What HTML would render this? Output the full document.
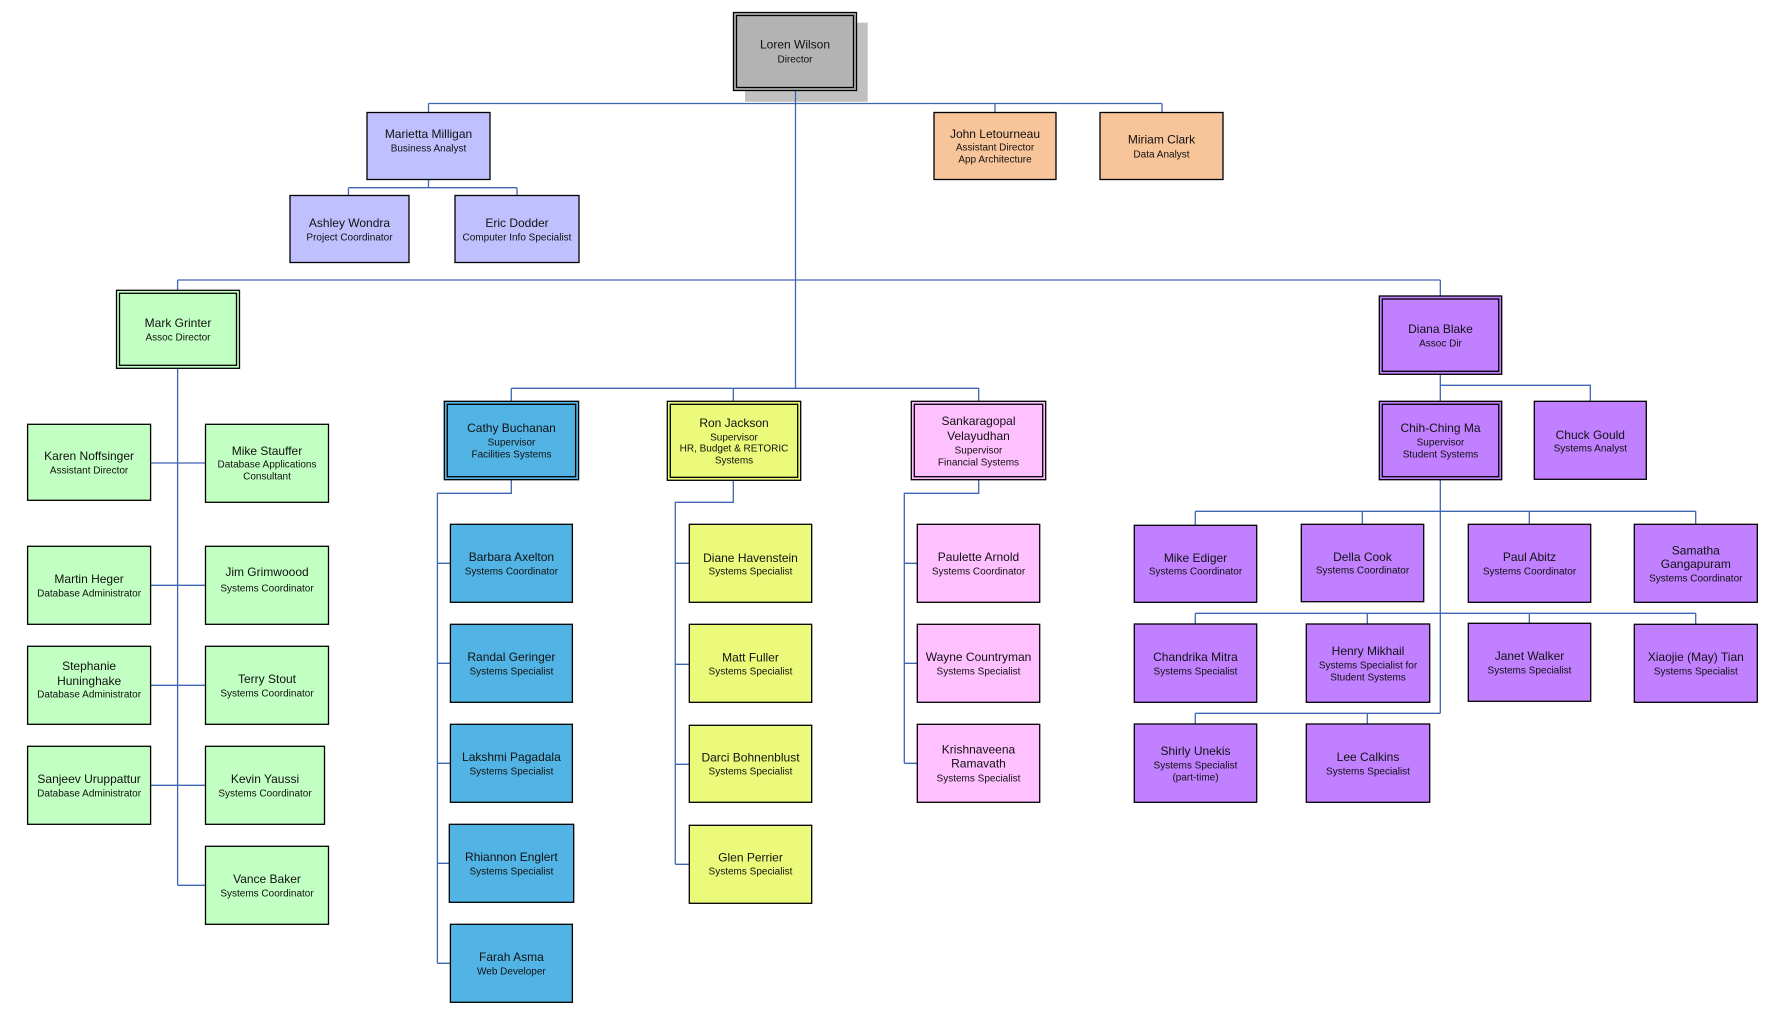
<!DOCTYPE html>
<html><head><meta charset="utf-8"><style>
html,body{margin:0;padding:0;background:#fff;}
svg{display:block;}
text{font-family:"Liberation Sans",Arial,sans-serif;text-anchor:middle;fill:#111;}
.n{font-size:12px;}
.s{font-size:10px;}
.l{stroke:#3d66b3;stroke-width:1.3;fill:none;}
.b{stroke:#000;stroke-width:1.3;}
.i{stroke:#000;stroke-width:1.3;fill:none;}
.gy{fill:#b3b3b3}.lv{fill:#c0c0ff}.pc{fill:#f8c49a}.gr{fill:#c2ffc2}.bl{fill:#52b4e4}.ye{fill:#ebfa7a}.pk{fill:#ffc0ff}.pu{fill:#c080ff}
</style></head><body>
<svg width="1785" height="1021" viewBox="0 0 1785 1021" xmlns="http://www.w3.org/2000/svg">
<rect x="0" y="0" width="1785" height="1021" fill="#fff"/>
<!-- shadow -->
<rect x="745" y="22.7" width="122.7" height="79" fill="#c0c0c0"/>
<!-- connectors -->
<path class="l" d="M795.5 90 V388.3
M428.5 103.5 H1162 M428.5 103.5 V112.5 M995 103.5 V112.5 M1162 103.5 V112.5
M428.5 179.3 V187.7 M348.5 187.7 H517 M348.5 187.7 V195.5 M517 187.7 V195.5
M177.6 280 H1440.3 M177.6 280 V290.3 M1440.3 280 V296
M511.3 388.3 H978.7 M511.3 388.3 V401.3 M733.3 388.3 V401.3 M978.7 388.3 V401.3
M177.6 368.3 V885.3 M150.8 463 H205.5 M150.8 585.3 H205.5 M150.8 685.3 H205.5 M150.8 785.3 H205.5 M177.6 885.3 H205.5
M511.3 479.7 V493.3 H437.4 V963.3 M437.4 563.3 H450.4 M437.4 663.3 H450.4 M437.4 763.3 H450.4 M437.4 863.3 H449.3 M437.4 963.3 H450.4
M733.3 480.3 V502.3 H675.3 V864.3 M675.3 563.3 H689.3 M675.3 664.3 H689.3 M675.3 764.3 H689.3 M675.3 864.3 H689.3
M978.7 479.7 V493.3 H904.3 V763.3 M904.3 563.3 H917.3 M904.3 663.3 H917.3 M904.3 763.3 H917.3
M1440.3 374.3 V401.3 M1440.3 385.3 H1590.3 V401.3
M1440.3 479.7 V713.3
M1195.3 511.3 H1695.7 M1195.3 511.3 V525.3 M1362.3 511.3 V524.3 M1529.3 511.3 V524.3 M1695.7 511.3 V524.3
M1195.3 613.3 H1695.7 M1195.3 613.3 V624 M1367.3 613.3 V624 M1529.3 613.3 V623.3 M1695.7 613.3 V624.3
M1195.3 713.3 H1440.3 M1195.3 713.3 V724 M1367.3 713.3 V724"/>

<!-- Loren -->
<rect class="gy b" x="733.5" y="12.5" width="123" height="78"/><rect class="i" x="736.5" y="15.5" width="117" height="72"/>
<text class="n" x="795" y="48.6">Loren Wilson</text><text class="s" x="795" y="62.6">Director</text>

<!-- Top staff -->
<rect class="lv b" x="367" y="112.5" width="123" height="67"/>
<text class="n" x="428.5" y="138">Marietta Milligan</text><text class="s" x="428.5" y="151.3">Business Analyst</text>
<rect class="pc b" x="934" y="112.5" width="122" height="67"/>
<text class="n" x="995" y="138">John Letourneau</text><text class="s" x="995" y="150.3">Assistant Director</text><text class="s" x="995" y="162.3">App Architecture</text>
<rect class="pc b" x="1100" y="112.5" width="123" height="67"/>
<text class="n" x="1161.5" y="143.6">Miriam Clark</text><text class="s" x="1161.5" y="157.3">Data Analyst</text>
<rect class="lv b" x="290" y="195.5" width="119" height="67"/>
<text class="n" x="349.5" y="227">Ashley Wondra</text><text class="s" x="349.5" y="240.3">Project Coordinator</text>
<rect class="lv b" x="455" y="195.5" width="124" height="67"/>
<text class="n" x="517" y="227">Eric Dodder</text><text class="s" x="517" y="240.3">Computer Info Specialist</text>

<!-- Mark group -->
<rect class="gr b" x="116.5" y="290.3" width="123" height="78"/><rect class="i" x="119.5" y="293.3" width="117" height="72"/>
<text class="n" x="178" y="327">Mark Grinter</text><text class="s" x="178" y="340.3">Assoc Director</text>
<rect class="gr b" x="27.6" y="424.3" width="123" height="76"/>
<text class="n" x="89.1" y="460">Karen Noffsinger</text><text class="s" x="89.1" y="473.3">Assistant Director</text>
<rect class="gr b" x="205.5" y="424.3" width="123" height="78"/>
<text class="n" x="267" y="455">Mike Stauffer</text><text class="s" x="267" y="467.3">Database Applications</text><text class="s" x="267" y="479.3">Consultant</text>
<rect class="gr b" x="27.6" y="546.3" width="123" height="78"/>
<text class="n" x="89.1" y="583">Martin Heger</text><text class="s" x="89.1" y="596.3">Database Administrator</text>
<rect class="gr b" x="205.5" y="546.3" width="123" height="78"/>
<text class="n" x="267" y="576">Jim Grimwoood</text><text class="s" x="267" y="591.3">Systems Coordinator</text>
<rect class="gr b" x="27.6" y="646.3" width="123" height="78"/>
<text class="n" x="89.1" y="670">Stephanie</text><text class="n" x="89.1" y="685">Huninghake</text><text class="s" x="89.1" y="697.3">Database Administrator</text>
<rect class="gr b" x="205.5" y="646.3" width="123" height="78"/>
<text class="n" x="267" y="683">Terry Stout</text><text class="s" x="267" y="696.3">Systems Coordinator</text>
<rect class="gr b" x="27.6" y="746.3" width="123" height="78"/>
<text class="n" x="89.1" y="783">Sanjeev Uruppattur</text><text class="s" x="89.1" y="796.3">Database Administrator</text>
<rect class="gr b" x="205.5" y="746.3" width="119" height="78"/>
<text class="n" x="265" y="783">Kevin Yaussi</text><text class="s" x="265" y="796.3">Systems Coordinator</text>
<rect class="gr b" x="205.5" y="846.3" width="123" height="78"/>
<text class="n" x="267" y="883">Vance Baker</text><text class="s" x="267" y="896.3">Systems Coordinator</text>

<!-- Cathy group -->
<rect class="bl b" x="444.3" y="401.3" width="134.3" height="78.4"/><rect class="i" x="447.3" y="404.3" width="128.3" height="72.4"/>
<text class="n" x="511.5" y="432">Cathy Buchanan</text><text class="s" x="511.5" y="445.3">Supervisor</text><text class="s" x="511.5" y="457.3">Facilities Systems</text>
<rect class="bl b" x="450.4" y="524.3" width="122" height="78"/>
<text class="n" x="511.4" y="561">Barbara Axelton</text><text class="s" x="511.4" y="574.3">Systems Coordinator</text>
<rect class="bl b" x="450.4" y="624.3" width="122" height="78"/>
<text class="n" x="511.4" y="661">Randal Geringer</text><text class="s" x="511.4" y="674.3">Systems Specialist</text>
<rect class="bl b" x="450.4" y="724.3" width="122" height="78"/>
<text class="n" x="511.4" y="761">Lakshmi Pagadala</text><text class="s" x="511.4" y="774.3">Systems Specialist</text>
<rect class="bl b" x="449.3" y="824.3" width="124.4" height="78"/>
<text class="n" x="511.4" y="861">Rhiannon Englert</text><text class="s" x="511.4" y="874.3">Systems Specialist</text>
<rect class="bl b" x="450.4" y="924.3" width="122" height="78"/>
<text class="n" x="511.4" y="961">Farah Asma</text><text class="s" x="511.4" y="974.3">Web Developer</text>

<!-- Ron group -->
<rect class="ye b" x="667.3" y="401.3" width="133.4" height="79"/><rect class="i" x="670.3" y="404.3" width="127.4" height="73"/>
<text class="n" x="734" y="427">Ron Jackson</text><text class="s" x="734" y="440.3">Supervisor</text><text class="s" x="734" y="451.3">HR, Budget &amp; RETORIC</text><text class="s" x="734" y="463.3">Systems</text>
<rect class="ye b" x="689.3" y="524.3" width="122.4" height="78"/>
<text class="n" x="750.5" y="562">Diane Havenstein</text><text class="s" x="750.5" y="574.3">Systems Specialist</text>
<rect class="ye b" x="689.3" y="624.3" width="122.4" height="78"/>
<text class="n" x="750.5" y="661.6">Matt Fuller</text><text class="s" x="750.5" y="674.3">Systems Specialist</text>
<rect class="ye b" x="689.3" y="725.3" width="122.4" height="77"/>
<text class="n" x="750.5" y="761.6">Darci Bohnenblust</text><text class="s" x="750.5" y="774.3">Systems Specialist</text>
<rect class="ye b" x="689.3" y="825.3" width="122.4" height="78"/>
<text class="n" x="750.5" y="861.6">Glen Perrier</text><text class="s" x="750.5" y="874.3">Systems Specialist</text>

<!-- Sankar group -->
<rect class="pk b" x="911.3" y="401.3" width="134.4" height="78.4"/><rect class="i" x="914.3" y="404.3" width="128.4" height="72.4"/>
<text class="n" x="978.5" y="425">Sankaragopal</text><text class="n" x="978.5" y="440">Velayudhan</text><text class="s" x="978.5" y="453.3">Supervisor</text><text class="s" x="978.5" y="465.3">Financial Systems</text>
<rect class="pk b" x="917.3" y="524.3" width="122.4" height="78"/>
<text class="n" x="978.5" y="561">Paulette Arnold</text><text class="s" x="978.5" y="574.3">Systems Coordinator</text>
<rect class="pk b" x="917.3" y="624.3" width="122.4" height="78"/>
<text class="n" x="978.5" y="661">Wayne Countryman</text><text class="s" x="978.5" y="674.3">Systems Specialist</text>
<rect class="pk b" x="917.3" y="724.3" width="122.4" height="78"/>
<text class="n" x="978.5" y="753.6">Krishnaveena</text><text class="n" x="978.5" y="767.6">Ramavath</text><text class="s" x="978.5" y="781.3">Systems Specialist</text>

<!-- Diana group -->
<rect class="pu b" x="1379.3" y="296" width="122.4" height="78.3"/><rect class="i" x="1382.3" y="299" width="116.4" height="72.3"/>
<text class="n" x="1440.5" y="333">Diana Blake</text><text class="s" x="1440.5" y="346.3">Assoc Dir</text>
<rect class="pu b" x="1379.3" y="401.3" width="122.4" height="78.4"/><rect class="i" x="1382.3" y="404.3" width="116.4" height="72.4"/>
<text class="n" x="1440.5" y="432">Chih-Ching Ma</text><text class="s" x="1440.5" y="445.3">Supervisor</text><text class="s" x="1440.5" y="457.3">Student Systems</text>
<rect class="pu b" x="1534.3" y="401.3" width="112" height="78"/>
<text class="n" x="1590.3" y="439">Chuck Gould</text><text class="s" x="1590.3" y="451.3">Systems Analyst</text>

<rect class="pu b" x="1134.3" y="525.3" width="122.4" height="77"/>
<text class="n" x="1195.5" y="562">Mike Ediger</text><text class="s" x="1195.5" y="574.3">Systems Coordinator</text>
<rect class="pu b" x="1301.3" y="524.3" width="122.4" height="77.4"/>
<text class="n" x="1362.5" y="561">Della Cook</text><text class="s" x="1362.5" y="573.3">Systems Coordinator</text>
<rect class="pu b" x="1468.3" y="524.3" width="122.4" height="78"/>
<text class="n" x="1529.5" y="561">Paul Abitz</text><text class="s" x="1529.5" y="574.3">Systems Coordinator</text>
<rect class="pu b" x="1634.3" y="524.3" width="123" height="78"/>
<text class="n" x="1695.8" y="554.3">Samatha</text><text class="n" x="1695.8" y="568">Gangapuram</text><text class="s" x="1695.8" y="581.6">Systems Coordinator</text>

<rect class="pu b" x="1134.3" y="624" width="122.4" height="78.3"/>
<text class="n" x="1195.5" y="661">Chandrika Mitra</text><text class="s" x="1195.5" y="674.3">Systems Specialist</text>
<rect class="pu b" x="1306.3" y="624" width="123.4" height="78.3"/>
<text class="n" x="1368" y="655">Henry Mikhail</text><text class="s" x="1368" y="668.6">Systems Specialist for</text><text class="s" x="1368" y="680.3">Student Systems</text>
<rect class="pu b" x="1468.3" y="623.3" width="122.4" height="78"/>
<text class="n" x="1529.5" y="660">Janet Walker</text><text class="s" x="1529.5" y="673.3">Systems Specialist</text>
<rect class="pu b" x="1634.3" y="624.3" width="123" height="78"/>
<text class="n" x="1695.8" y="661">Xiaojie (May) Tian</text><text class="s" x="1695.8" y="674.3">Systems Specialist</text>

<rect class="pu b" x="1134.3" y="724" width="122.4" height="78.3"/>
<text class="n" x="1195.5" y="755">Shirly Unekis</text><text class="s" x="1195.5" y="768.3">Systems Specialist</text><text class="s" x="1195.5" y="780.3">(part-time)</text>
<rect class="pu b" x="1306.3" y="724" width="123.4" height="78.3"/>
<text class="n" x="1368" y="761">Lee Calkins</text><text class="s" x="1368" y="774.3">Systems Specialist</text>
</svg>
</body></html>
